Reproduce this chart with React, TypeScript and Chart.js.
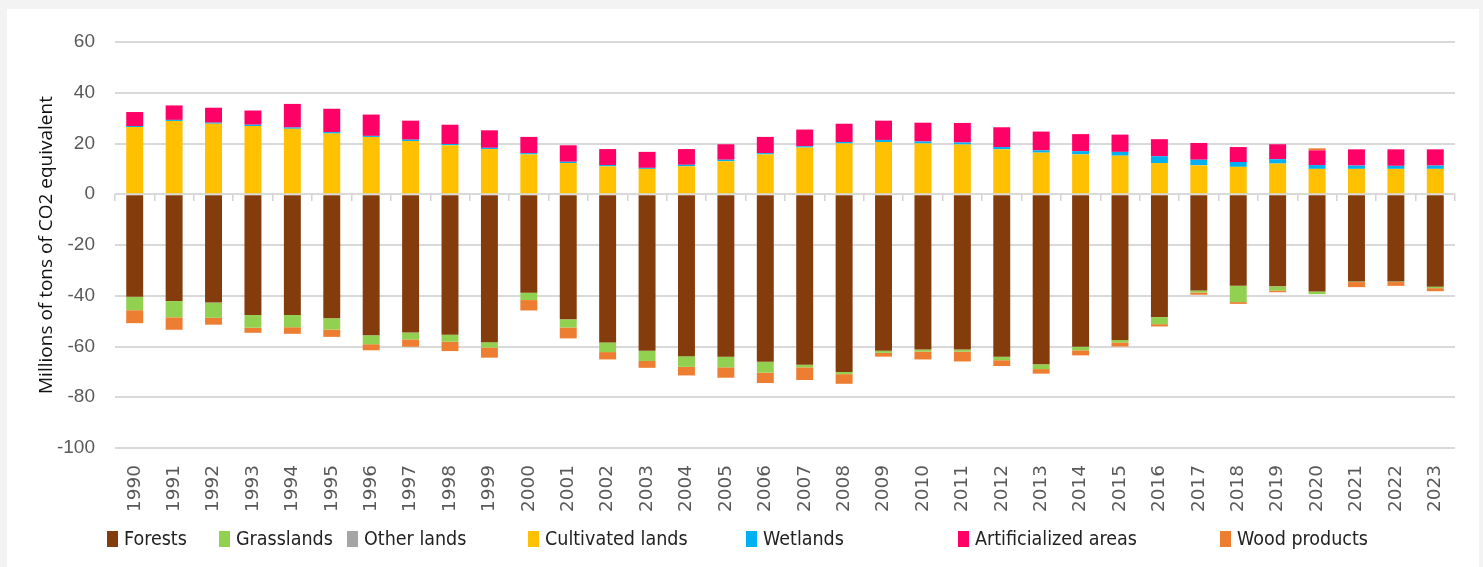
import React, { useEffect, useRef } from "react";
import { Chart, registerables } from "chart.js";

Chart.register(...registerables);

const years = [
  "1990", "1991", "1992", "1993", "1994", "1995", "1996", "1997", "1998", "1999",
  "2000", "2001", "2002", "2003", "2004", "2005", "2006", "2007", "2008", "2009",
  "2010", "2011", "2012", "2013", "2014", "2015", "2016", "2017", "2018", "2019",
  "2020", "2021", "2022", "2023",
];

const forests = [
  -40.4, -42.1, -42.7, -47.6, -47.6, -48.9, -55.6, -54.5, -55.4, -58.3,
  -38.8, -49.3, -58.4, -61.7, -63.8, -64.0, -66.0, -67.2, -70.0, -61.7,
  -61.2, -61.2, -64.0, -67.0, -60.1, -57.4, -48.4, -37.9, -36.1, -36.3,
  -38.3, -34.4, -34.4, -36.5,
];

const grasslands = [
  -5.3, -6.4, -6.0, -5.0, -4.8, -4.4, -3.5, -2.7, -2.7, -2.1,
  -2.9, -3.2, -3.8, -4.0, -4.2, -4.2, -4.3, -1.0, -0.9, -0.8,
  -0.8, -0.8, -1.4, -1.9, -1.4, -1.0, -2.8, -0.8, -6.4, -1.6,
  -1.1, -0.2, -0.2, -0.5,
];

const otherLands = [
  0, 0, 0, 0, 0, 0, 0, 0, 0, 0,
  0, 0, 0, 0, 0, 0, 0, 0, 0, 0,
  0, 0, 0, 0, 0, 0, 0, 0, 0, 0,
  0, 0, 0, 0,
];

const cultivatedLands = [
  26.5, 28.9, 27.8, 26.9, 25.8, 23.9, 22.6, 21.0, 19.3, 17.8,
  15.7, 12.3, 11.0, 10.0, 11.0, 13.0, 15.7, 18.4, 20.0, 20.6,
  20.0, 19.6, 17.7, 16.4, 15.7, 15.2, 12.3, 11.4, 10.8, 12.1,
  10.0, 10.0, 10.0, 10.0,
];

const wetlands = [
  0.4, 0.4, 0.4, 0.5, 0.5, 0.6, 0.4, 0.5, 0.5, 0.5,
  0.5, 0.5, 0.5, 0.4, 0.6, 0.6, 0.5, 0.5, 0.6, 0.8,
  0.8, 0.8, 0.9, 0.9, 1.3, 1.5, 2.7, 2.2, 1.9, 1.7,
  1.5, 1.3, 1.2, 1.3,
];

const artificializedAreas = [
  5.5, 5.7, 5.9, 5.6, 9.3, 9.2, 8.4, 7.5, 7.6, 6.9,
  6.4, 6.5, 6.3, 6.3, 6.2, 6.1, 6.4, 6.6, 7.2, 7.6,
  7.4, 7.7, 7.8, 7.4, 6.7, 6.8, 6.7, 6.6, 5.9, 5.9,
  5.8, 6.4, 6.5, 6.4,
];

const woodProducts = [
  -5.1, -4.9, -2.7, -2.0, -2.6, -2.9, -2.4, -2.9, -3.7, -4.0,
  -4.1, -4.3, -2.9, -2.7, -3.4, -4.1, -4.1, -5.0, -3.8, -1.5,
  -3.1, -3.9, -2.3, -1.8, -2.0, -1.6, -0.9, -0.9, -0.7, -0.7,
  0.8, -2.0, -1.5, -1.2,
];

const seriesNames = [
  "Forests", "Grasslands", "Other lands", "Cultivated lands",
  "Wetlands", "Artificialized areas", "Wood products",
];
const seriesValues = [
  forests, grasslands, otherLands, cultivatedLands,
  wetlands, artificializedAreas, woodProducts,
];
const seriesColors = [
  "#843C0C", "#92D050", "#A5A5A5", "#FFC000",
  "#00B0F0", "#FF0066", "#ED7D31",
];

// legend layout (pixel left of each legend swatch)
const legendLeft = [107, 219, 347, 528, 746, 958, 1220];

const yTitle = "Millions of tons of CO2 equivalent";

const W = 1483;
const H = 567;

export default function App() {
  const ref = useRef<HTMLCanvasElement>(null);

  useEffect(() => {
    const canvas = ref.current;
    if (!canvas) return;
    const chart = new Chart(canvas, {
      type: "bar",
      data: {
        labels: years,
        datasets: seriesNames.map((name, i) => ({
          label: name,
          data: seriesValues[i],
          backgroundColor: seriesColors[i],
          borderWidth: 0,
          categoryPercentage: 1,
          barPercentage: 0.43,
        })),
      },
      options: {
        animation: false,
        responsive: false,
        maintainAspectRatio: false,
        devicePixelRatio: 1,
        layout: { padding: { left: 31, top: 42, right: 28, bottom: 0 } },
        plugins: {
          legend: { display: false },
          tooltip: { enabled: false },
        },
        scales: {
          x: {
            stacked: true,
            grid: { display: false },
            border: { display: false },
            ticks: {
              autoSkip: false,
              minRotation: 90,
              maxRotation: 90,
              padding: 9,
              color: "#595959",
              font: { family: "'DejaVu Sans', sans-serif", size: 18.5 },
            },
            afterFit: (s: any) => {
              s.height = H - 448;
            },
          },
          x2: {
            axis: "x",
            type: "category",
            labels: years,
            position: { y: 0 },
            grid: {
              offset: true,
              drawOnChartArea: false,
              drawTicks: true,
              tickLength: 7,
              color: "#d4d4d4",
              lineWidth: 1.5,
            },
            border: { display: false },
            ticks: { display: false },
          },
          y: {
            stacked: true,
            min: -100,
            max: 60,
            ticks: {
              stepSize: 20,
              padding: 20,
              color: "#595959",
              font: { family: "'Liberation Sans', Arial, sans-serif", size: 19 },
            },
            grid: { color: "#d9d9d9", lineWidth: 2, drawTicks: false },
            border: { display: false },
            title: {
              display: true,
              text: yTitle,
              color: "#111",
              padding: { top: 4, bottom: 4 },
              font: { family: "'Open Sans', sans-serif", size: 19 },
            },
            afterFit: (s: any) => {
              s.width = 115 - 31;
            },
          },
        },
      } as any,
    });
    return () => chart.destroy();
  }, []);

  return (
    <div style={{ position: "fixed", left: 0, top: 0, width: W, height: H, background: "#f3f3f3", overflow: "hidden" }}>
      <div style={{ position: "absolute", left: 7, top: 9, width: 1472, height: H, background: "#ffffff" }} />
      <canvas ref={ref} width={W} height={H} style={{ position: "absolute", left: 0, top: 0, width: W, height: H }} />
      {seriesNames.map((name, i) => (
        <div
          key={name}
          style={{
            position: "absolute",
            left: legendLeft[i],
            top: 527,
            display: "flex",
            alignItems: "center",
            whiteSpace: "nowrap",
            fontFamily: "'DejaVu Sans Condensed', sans-serif",
            fontSize: 19.5,
            color: "#222",
            lineHeight: "24px",
          }}
        >
          <span style={{ display: "inline-block", width: 11, height: 16, background: seriesColors[i], marginRight: 6 }} />
          <span>{name}</span>
        </div>
      ))}
    </div>
  );
}
